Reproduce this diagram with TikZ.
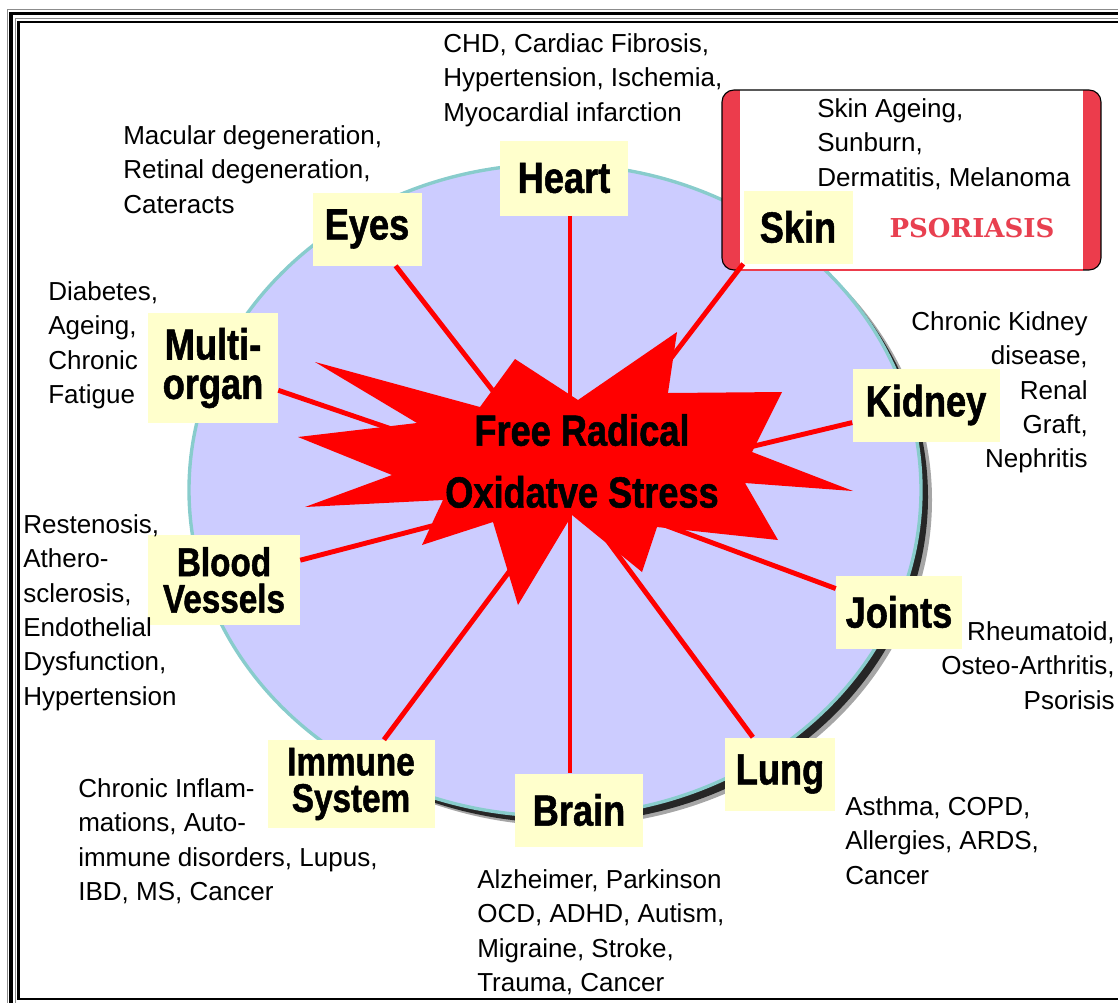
\documentclass[tikz,border=0pt]{standalone}
\usepackage{fontspec}
\setmainfont{Liberation Sans}
\newfontfamily\condfont[FakeStretch=0.83,FakeBold=1.2]{Liberation Sans}
\newfontfamily\slabfont{DejaVu Serif}
\usetikzlibrary{positioning}
\definecolor{discLav}{HTML}{CCCCFF}
\definecolor{rimTeal}{HTML}{88CCCC}
\definecolor{boxYel}{HTML}{FFFFCC}
\definecolor{skinRed}{HTML}{EC3C4C}
\definecolor{psoRed}{HTML}{E84050}
\def\px{0.025cm}
\tikzset{
  organ/.style={fill=boxYel, inner sep=0pt, align=center,
    font=\condfont\bfseries\fontsize{31}{28}\selectfont},
  organtwo/.style={organ, font=\condfont\bfseries\fontsize{28.5}{26}\selectfont},
  ill/.style={font=\fontsize{18.5}{24.5}\selectfont, inner sep=0pt, align=left, anchor=north west},
  illr/.style={ill, align=right, anchor=north east},
  spoke/.style={draw=red, line width=3.5pt},
  frameK/.style={draw=black, line width=2.8pt},
  frameG/.style={draw=black!45, line width=0.6pt},
}

\begin{document}
\begin{tikzpicture}[x=0.025cm, y=-0.025cm]
\useasboundingbox (0,0) rectangle (1118,1002);
\clip (0,0) rectangle (1118,1002);

% ── disc with its shadow ─────────────────────────────────────────────────────
\fill[black!35] (566,500) ellipse [x radius=366, y radius=326];
\fill[black!85] (562,497) ellipse [x radius=366, y radius=326];
\draw[rimTeal, line width=2.4pt, fill=discLav] (555,490) ellipse [x radius=366, y radius=326];
\coordinate (hub) at (570,490);

% ── skin panel ───────────────────────────────────────────────────────────────
\begin{scope}
  \clip[rounded corners=8.5pt] (722,90) rectangle (1101,270);
  \fill[white] (722,90) rectangle (1101,270);
  \fill[skinRed] (722,90) rectangle (740,270);
  \fill[skinRed] (1083,90) rectangle (1101,270);
\end{scope}
\draw[rounded corners=8.5pt, line width=0.8pt] (722,90) rectangle (1101,270);
\draw[skinRed, line width=0.8pt] (740,270) -- (1083,270);
\node[font=\slabfont\bfseries\fontsize{18.5}{18.5}\selectfont, text=psoRed] (psor) at (972,228) {PSORIASIS};

% ── organ boxes ──────────────────────────────────────────────────────────────
\node[organ, minimum width=128*\px, minimum height=75*\px] (heart) at (564,178) {Heart};
\node[organ, minimum width=109*\px, minimum height=73*\px] (eyes) at (367,229) {Eyes};
\node[organ, minimum width=109*\px, minimum height=73*\px] (skin) at (798,227) {Skin};
\node[organ, minimum width=130*\px, minimum height=110*\px] (multi) at (213,368) {Multi-\\organ};
\node[organ, minimum width=147*\px, minimum height=73*\px] (kidney) at (926,405) {Kidney};
\node[organtwo, minimum width=152*\px, minimum height=90*\px] (blood) at (224,580) {Blood\\Vessels};
\node[organ, minimum width=126*\px, minimum height=73*\px] (joints) at (899,612) {Joints};
\node[organtwo, minimum width=167*\px, minimum height=88*\px] (immune) at (351,784) {Immune\\System};
\node[organ, minimum width=128*\px, minimum height=73*\px] (brain) at (579,810) {Brain};
\node[organ, minimum width=110*\px, minimum height=73*\px] (lung) at (780,774) {Lung};

% spokes to the hub
\draw[spoke] (hub |- heart.south) -- (hub);
\draw[spoke] (hub |- brain.north) -- (hub);
\draw[spoke] (skin.south west) -- (hub);
\foreach \o in {eyes, multi, kidney, blood, joints, immune, lung}
  \draw[spoke] (\o) -- (hub);

% ── the burst ────────────────────────────────────────────────────────────────
\fill[red] (515,359) -- (578,400) -- (677,332) -- (668,393) -- (782,392) -- (752,452)
  -- (853,491) -- (745,483) -- (778,540) -- (657,527) -- (642,572) -- (572,515)
  -- (518,605) -- (493,522) -- (422,545) -- (443,500) -- (305,507) -- (392,475)
  -- (298,437) -- (417,423) -- (315,362) -- (480,407) -- cycle;
\node[font=\condfont\bfseries\fontsize{31}{44}\selectfont, align=center, inner sep=0pt]
  (stress) at (582,461) {Free Radical\\Oxidatve Stress};

% ── disease notes ────────────────────────────────────────────────────────────
\node[ill] (heartnote) at (443,33) {CHD, Cardiac Fibrosis,\\Hypertension, Ischemia,\\Myocardial infarction};
\node[ill] (eyesnote) at (123,125) {Macular degeneration,\\Retinal degeneration,\\Cateracts};
\node[ill] (skinnote) at (817,98) {Skin Ageing,\\Sunburn,\\Dermatitis, Melanoma};
\node[ill] (multinote) at (48,281) {Diabetes,\\Ageing,\\Chronic\\Fatigue};
\node[illr] (kidneynote) at (1088,311) {Chronic Kidney\\disease,\\Renal\\Graft,\\Nephritis};
\node[ill] (bloodnote) at (23,514) {Restenosis,\\Athero-\\sclerosis,\\Endothelial\\Dysfunction,\\Hypertension};
\node[illr] (jointsnote) at (1115,621) {Rheumatoid,\\Osteo-Arthritis,\\Psorisis};
\node[ill] (lungnote) at (845,796) {Asthma, COPD,\\Allergies, ARDS,\\Cancer};
\node[ill] (brainnote) at (477,869) {Alzheimer, Parkinson\\OCD, ADHD, Autism,\\Migraine, Stroke,\\Trauma, Cancer};
\node[ill] (immunenote) at (78,778) {Chronic Inflam-\\mations, Auto-\\immune disorders, Lupus,\\IBD, MS, Cancer};

% ── page frame ───────────────────────────────────────────────────────────────
\draw[frameG] (7,9.5) rectangle (1140,1030);
\draw[frameK] (11,13.5) rectangle (1140,1030);
\draw[frameG] (15,18.5) rectangle (1140,1030);
\draw[frameK, line width=1.9pt] (18.5,22) rectangle (1140,999);
\end{tikzpicture}
\end{document}
